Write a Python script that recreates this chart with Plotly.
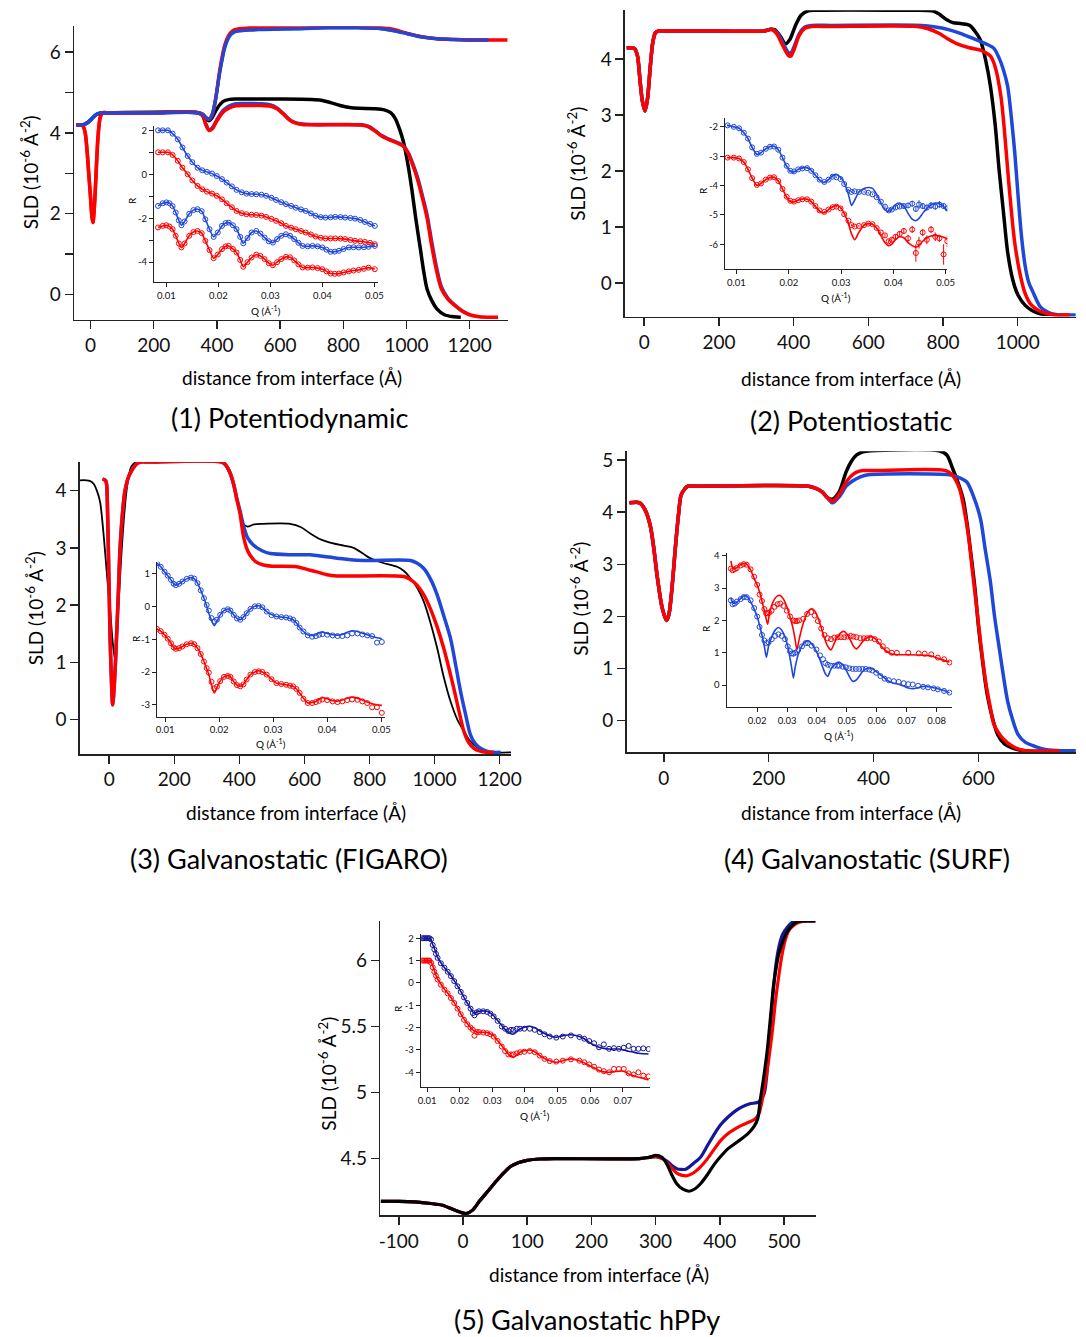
import plotly.graph_objects as go

W, H = 1086, 1337
FONT = "Lato"
RED = "#ff0000"
BLUE = "#1f48d8"
NAVY = "#16169a"
BLACK = "#000000"
AXC = "#222222"

# ---------------- Panel 1 : Potentiodynamic ----------------
P1_BLACK_X = [-45, -30, -20, -10, 0, 10, 20, 30, 40, 60, 340, 355, 365, 375, 385, 400, 420, 440, 460, 500, 600, 700, 730, 760, 790, 820, 850, 900, 930, 950, 965, 980, 991, 1005, 1017, 1030, 1044, 1055, 1065, 1080, 1097, 1120, 1150, 1172]
P1_BLACK_Y = [4.2, 4.2, 4.21, 4.25, 4.32, 4.4, 4.46, 4.49, 4.5, 4.5, 4.5, 4.45, 4.35, 4.3, 4.38, 4.6, 4.78, 4.83, 4.84, 4.84, 4.84, 4.83, 4.81, 4.75, 4.68, 4.63, 4.61, 4.6, 4.57, 4.5, 4.35, 4.05, 3.76, 3.2, 2.6, 1.85, 1.13, 0.55, 0.14, -0.15, -0.36, -0.5, -0.55, -0.56]
P1_BLUE_UP_X = [-45, -30, -20, -10, 0, 10, 20, 30, 40, 60, 200, 340, 355, 365, 375, 385, 395, 410, 425, 440, 455, 470, 500, 550, 650, 750, 850, 920, 960, 1000, 1044, 1097, 1150, 1200, 1260]
P1_BLUE_UP_Y = [4.2, 4.2, 4.21, 4.25, 4.32, 4.4, 4.46, 4.49, 4.5, 4.5, 4.5, 4.5, 4.46, 4.38, 4.34, 4.45, 4.8, 5.55, 6.12, 6.4, 6.5, 6.53, 6.55, 6.56, 6.58, 6.6, 6.6, 6.58, 6.53, 6.46, 6.38, 6.33, 6.31, 6.3, 6.3]
P1_RED_UP_X = [-45, -30, -24, -17, -11, -6, 0, 4, 7.5, 11, 15, 19, 23, 27, 31, 38, 50, 200, 340, 355, 365, 375, 385, 395, 410, 425, 440, 455, 470, 500, 550, 650, 750, 850, 920, 960, 1000, 1044, 1097, 1150, 1200, 1320]
P1_RED_UP_Y = [4.2, 4.2, 4.17, 4.0, 3.55, 3.02, 2.4, 1.95, 1.78, 2.05, 2.6, 3.25, 3.84, 4.2, 4.4, 4.5, 4.5, 4.5, 4.5, 4.46, 4.38, 4.34, 4.45, 4.8, 5.6, 6.18, 6.45, 6.55, 6.58, 6.6, 6.62, 6.64, 6.64, 6.63, 6.6, 6.56, 6.47, 6.39, 6.33, 6.31, 6.3, 6.3]
P1_RED_LOW_X = [-45, -30, -24, -17, -11, -6, 0, 4, 7.5, 11, 15, 19, 23, 27, 31, 38, 50, 200, 340, 355, 365, 375, 385, 400, 420, 440, 460, 480, 500, 540, 570, 590, 610, 630, 650, 670, 700, 800, 860, 880, 900, 920, 940, 965, 990, 1005, 1020, 1035, 1050, 1065, 1080, 1095, 1110, 1130, 1150, 1175, 1200, 1230, 1260, 1290]
P1_RED_LOW_Y = [4.2, 4.2, 4.17, 4.0, 3.55, 3.02, 2.4, 1.95, 1.78, 2.05, 2.6, 3.25, 3.84, 4.2, 4.4, 4.5, 4.5, 4.5, 4.5, 4.42, 4.2, 4.06, 4.1, 4.3, 4.52, 4.62, 4.67, 4.68, 4.68, 4.68, 4.66, 4.6, 4.47, 4.32, 4.24, 4.21, 4.2, 4.2, 4.19, 4.15, 4.05, 3.93, 3.85, 3.77, 3.67, 3.5, 3.2, 2.85, 2.4, 1.9, 1.2, 0.6, 0.15, -0.1, -0.25, -0.4, -0.5, -0.55, -0.56, -0.56]
P1_BLUE_LOW_X = [-45, -30, -20, -10, 0, 10, 20, 30, 40, 60, 200, 340, 355, 365, 375, 385, 400, 420, 440, 460, 480, 500, 540, 570, 590, 610, 630, 650, 670, 700, 800, 860, 880, 900, 920, 940, 965, 990, 1005, 1020, 1035, 1050, 1065, 1080, 1095, 1110, 1130, 1150, 1175, 1200]
P1_BLUE_LOW_Y = [4.2, 4.2, 4.21, 4.25, 4.32, 4.4, 4.46, 4.49, 4.5, 4.5, 4.5, 4.5, 4.43, 4.22, 4.08, 4.12, 4.33, 4.56, 4.67, 4.72, 4.73, 4.73, 4.72, 4.69, 4.62, 4.48, 4.33, 4.25, 4.22, 4.21, 4.21, 4.2, 4.16, 4.06, 3.94, 3.86, 3.78, 3.68, 3.52, 3.24, 2.9, 2.46, 1.98, 1.3, 0.68, 0.2, -0.08, -0.24, -0.4, -0.5]

# inset 1 (reflectivity)
IN1_Q_TOP = [0.0084, 0.0093, 0.0103, 0.0112, 0.0122, 0.0131, 0.0141, 0.0150, 0.0160, 0.0169, 0.0178, 0.0188, 0.0197, 0.0207, 0.0216, 0.0226, 0.0235, 0.0245, 0.0254, 0.0264, 0.0273, 0.0283, 0.0292, 0.0302, 0.0311, 0.0321, 0.0330, 0.0340, 0.0349, 0.0359, 0.0368, 0.0378, 0.0387, 0.0397, 0.0406, 0.0416, 0.0425, 0.0435, 0.0444, 0.0454, 0.0463, 0.0473, 0.0482, 0.0492, 0.0501]
IN1_BLUE_TOP = [2.0, 2.0, 2.0, 1.85, 1.59, 1.22, 0.83, 0.55, 0.30, 0.18, 0.11, 0.03, -0.08, -0.22, -0.38, -0.55, -0.71, -0.82, -0.88, -0.90, -0.91, -0.93, -0.98, -1.07, -1.17, -1.27, -1.36, -1.44, -1.52, -1.60, -1.67, -1.78, -1.89, -1.95, -1.97, -1.96, -1.94, -1.95, -1.97, -1.99, -2.02, -2.08, -2.17, -2.26, -2.35]
IN1_RED_TOP = [1.0, 1.0, 1.0, 0.88, 0.61, 0.30, 0.0, -0.28, -0.53, -0.68, -0.79, -0.88, -0.98, -1.14, -1.32, -1.50, -1.67, -1.77, -1.82, -1.84, -1.85, -1.88, -1.94, -2.03, -2.12, -2.23, -2.35, -2.43, -2.50, -2.58, -2.65, -2.74, -2.83, -2.89, -2.92, -2.92, -2.92, -2.93, -2.95, -2.99, -3.03, -3.05, -3.08, -3.12, -3.18]
IN1_Q_OSC = [0.0084, 0.0093, 0.0100, 0.0106, 0.0112, 0.0118, 0.0124, 0.0129, 0.0135, 0.0144, 0.0152, 0.0160, 0.0168, 0.0175, 0.0183, 0.0191, 0.0199, 0.0207, 0.0214, 0.0220, 0.0228, 0.0235, 0.0242, 0.0248, 0.0256, 0.0264, 0.0273, 0.0281, 0.0289, 0.0297, 0.0305, 0.0313, 0.0321, 0.0330, 0.0338, 0.0346, 0.0354, 0.0362, 0.0372, 0.0381, 0.0391, 0.0400, 0.0408, 0.0416, 0.0424, 0.0432, 0.0441, 0.0451, 0.0460, 0.0470, 0.0480, 0.0489, 0.0501]
IN1_BLUE_OSC = [-1.44, -1.32, -1.28, -1.32, -1.45, -1.74, -2.10, -2.32, -2.15, -1.80, -1.63, -1.59, -1.68, -2.05, -2.50, -2.85, -2.65, -2.35, -2.22, -2.20, -2.32, -2.50, -2.85, -3.14, -2.90, -2.65, -2.58, -2.70, -2.88, -3.05, -3.11, -2.95, -2.80, -2.73, -2.80, -2.95, -3.12, -3.26, -3.28, -3.26, -3.28, -3.33, -3.43, -3.53, -3.52, -3.48, -3.40, -3.33, -3.32, -3.33, -3.32, -3.30, -3.26]
IN1_RED_OSC = [-2.42, -2.35, -2.32, -2.38, -2.50, -2.80, -3.15, -3.33, -3.15, -2.80, -2.63, -2.58, -2.68, -3.03, -3.45, -3.82, -3.65, -3.41, -3.28, -3.26, -3.40, -3.56, -3.90, -4.21, -4.00, -3.79, -3.66, -3.72, -3.86, -4.05, -4.14, -4.00, -3.86, -3.76, -3.78, -3.92, -4.10, -4.24, -4.25, -4.24, -4.27, -4.32, -4.42, -4.52, -4.53, -4.52, -4.47, -4.42, -4.38, -4.35, -4.30, -4.25, -4.32]

# ---------------- Panel 2 : Potentiostatic ----------------
P2_COMMON_X = [-47, -35, -25, -18, -11, -5, 2, 9, 16, 23, 30, 38, 60, 200, 320, 340]
P2_COMMON_Y = [4.2, 4.2, 4.18, 4.05, 3.6, 3.25, 3.07, 3.3, 3.85, 4.3, 4.47, 4.5, 4.5, 4.5, 4.5, 4.53]
P2_BLACK_X = [350, 365, 378, 390, 405, 420, 439, 460, 700, 771, 790, 810, 826, 850, 872, 885, 900, 915, 927, 940, 950, 962, 973, 987, 1001, 1020, 1038, 1060, 1090]
P2_BLACK_Y = [4.52, 4.4, 4.27, 4.35, 4.6, 4.78, 4.86, 4.87, 4.87, 4.86, 4.8, 4.7, 4.65, 4.63, 4.6, 4.5, 4.34, 3.95, 3.51, 2.8, 2.03, 1.25, 0.55, 0.05, -0.22, -0.4, -0.49, -0.55, -0.56]
P2_BLUE_X = [355, 370, 385, 392, 400, 415, 430, 448, 500, 743, 780, 817, 850, 890, 915, 936, 950, 962, 973, 983, 992, 1001, 1010, 1020, 1030, 1040, 1050, 1060, 1075, 1090, 1110, 1155]
P2_BLUE_Y = [4.48, 4.3, 4.12, 4.1, 4.2, 4.45, 4.57, 4.6, 4.6, 4.6, 4.57, 4.52, 4.45, 4.34, 4.27, 4.19, 4.02, 3.8, 3.51, 2.95, 2.33, 1.55, 0.84, 0.3, 0.0, -0.15, -0.3, -0.42, -0.5, -0.55, -0.57, -0.57]
P2_RED_X = [355, 370, 385, 392, 400, 415, 430, 448, 500, 730, 760, 789, 810, 835, 870, 900, 927, 940, 955, 964, 973, 982, 992, 1005, 1019, 1035, 1056, 1080, 1100, 1140]
P2_RED_Y = [4.45, 4.25, 4.07, 4.05, 4.15, 4.42, 4.55, 4.58, 4.58, 4.58, 4.54, 4.46, 4.37, 4.28, 4.2, 4.16, 4.05, 3.85, 3.33, 2.75, 2.03, 1.35, 0.72, 0.2, -0.17, -0.38, -0.49, -0.55, -0.57, -0.57]

IN2_Q = [0.0083, 0.0095, 0.0105, 0.0114, 0.0122, 0.0130, 0.0139, 0.0147, 0.0156, 0.0164, 0.0172, 0.0180, 0.0188, 0.0196, 0.0203, 0.0210, 0.0218, 0.0226, 0.0235, 0.0243, 0.0251, 0.0259, 0.0268, 0.0276, 0.0284, 0.0291, 0.0299, 0.0306, 0.0314, 0.0320, 0.0326, 0.0334, 0.0344, 0.0352, 0.0360, 0.0368, 0.0376, 0.0384, 0.0391, 0.0397, 0.0404, 0.0412, 0.0420, 0.0428, 0.0436, 0.0443, 0.0449, 0.0456, 0.0464, 0.0472, 0.0480, 0.0488, 0.0496, 0.0503]
IN2_BLUE_FIT = [-1.95, -2.0, -2.05, -2.2, -2.4, -2.7, -2.94, -2.88, -2.75, -2.67, -2.66, -2.78, -3.05, -3.35, -3.52, -3.54, -3.45, -3.4, -3.39, -3.48, -3.65, -3.82, -3.9, -3.8, -3.66, -3.62, -3.72, -3.9, -4.3, -4.68, -4.5, -4.22, -4.1, -4.07, -4.1, -4.3, -4.6, -4.83, -4.88, -4.8, -4.65, -4.6, -4.7, -4.95, -5.15, -5.2, -5.12, -4.95, -4.78, -4.65, -4.6, -4.62, -4.72, -4.86]
IN2_BLUE_DATA = [-1.95, -2.0, -2.05, -2.2, -2.4, -2.7, -2.92, -2.88, -2.75, -2.68, -2.67, -2.78, -3.05, -3.33, -3.5, -3.52, -3.45, -3.42, -3.41, -3.5, -3.65, -3.8, -3.88, -3.8, -3.7, -3.72, -3.78, -3.95, -4.15, -4.22, -4.2, -4.22, -4.22, -4.25, -4.3, -4.4, -4.55, -4.72, -4.85, -4.82, -4.75, -4.72, -4.7, -4.68, -4.62, -4.8, -4.65, -4.7, -4.75, -4.68, -4.72, -4.65, -4.7, -4.78]
IN2_BLUE_ERR = [0.03, 0.03, 0.03, 0.03, 0.03, 0.03, 0.03, 0.03, 0.03, 0.03, 0.03, 0.03, 0.03, 0.03, 0.03, 0.03, 0.03, 0.03, 0.03, 0.03, 0.03, 0.03, 0.03, 0.03, 0.03, 0.03, 0.03, 0.03, 0.03, 0.03, 0.03, 0.03, 0.03, 0.03, 0.03, 0.03, 0.03, 0.04, 0.05, 0.05, 0.06, 0.06, 0.08, 0.08, 0.1, 0.1, 0.15, 0.1, 0.1, 0.12, 0.1, 0.12, 0.1, 0.1]
IN2_RED_FIT = [-3.05, -3.05, -3.08, -3.2, -3.45, -3.75, -4.0, -3.93, -3.8, -3.73, -3.72, -3.85, -4.12, -4.4, -4.55, -4.56, -4.5, -4.46, -4.47, -4.55, -4.72, -4.88, -4.93, -4.82, -4.72, -4.68, -4.75, -4.95, -5.3, -5.65, -5.85, -5.6, -5.35, -5.3, -5.32, -5.45, -5.7, -5.95, -6.05, -6.0, -5.85, -5.75, -5.78, -5.95, -6.05, -6.1, -6.05, -5.9, -5.78, -5.72, -5.7, -5.72, -5.76, -5.82]
IN2_RED_DATA = [-3.05, -3.05, -3.08, -3.2, -3.45, -3.75, -3.98, -3.93, -3.8, -3.73, -3.72, -3.85, -4.12, -4.38, -4.52, -4.55, -4.5, -4.47, -4.47, -4.55, -4.7, -4.85, -4.9, -4.82, -4.74, -4.72, -4.78, -4.98, -5.2, -5.35, -5.4, -5.38, -5.35, -5.3, -5.32, -5.45, -5.6, -5.7, -5.9, -5.85, -5.75, -5.65, -5.55, -5.8, -5.5, -6.3, -5.95, -5.6, -5.85, -5.5, -5.75, -5.8, -6.35, -5.9]
IN2_RED_ERR = [0.03, 0.03, 0.03, 0.03, 0.03, 0.03, 0.03, 0.03, 0.03, 0.03, 0.03, 0.03, 0.03, 0.03, 0.03, 0.03, 0.03, 0.03, 0.03, 0.03, 0.03, 0.03, 0.03, 0.03, 0.03, 0.03, 0.03, 0.03, 0.03, 0.03, 0.03, 0.03, 0.03, 0.03, 0.03, 0.03, 0.03, 0.05, 0.06, 0.08, 0.08, 0.1, 0.1, 0.12, 0.12, 0.3, 0.2, 0.12, 0.15, 0.12, 0.15, 0.12, 0.35, 0.2]

# ---------------- Panel 3 : Galvanostatic (FIGARO) ----------------
P3_BLACK_X = [-90, -70, -60, -48, -38, -28, -20, -12.7, -5, 2.5, 10, 17.6, 22, 27.9, 33, 38, 45, 53, 60, 68, 83.5, 100, 340, 355, 370, 382, 392, 402, 412, 425, 445, 470, 556, 590, 618, 645, 669, 710, 751, 780, 802, 840, 885, 905, 926, 947, 967, 988, 1008, 1028, 1049, 1070, 1090, 1110, 1131, 1150, 1172, 1235]
P3_BLACK_Y = [4.18, 4.18, 4.17, 4.12, 4.0, 3.8, 3.4, 2.93, 2.4, 1.94, 1.4, 1.05, 1.3, 1.94, 2.45, 2.93, 3.5, 3.98, 4.25, 4.42, 4.5, 4.5, 4.5, 4.45, 4.3, 4.1, 3.85, 3.62, 3.42, 3.37, 3.41, 3.42, 3.42, 3.36, 3.25, 3.16, 3.11, 3.05, 3.0, 2.9, 2.82, 2.74, 2.67, 2.6, 2.47, 2.3, 2.06, 1.68, 1.25, 0.75, 0.32, 0.0, -0.2, -0.38, -0.48, -0.54, -0.57, -0.57]
P3_DIP_X = [-20.7, -12, -10, -7.6, -5, -2.5, 0, 2.5, 6.5, 10.6, 15, 18.8, 22.8, 28, 32.8, 40, 48, 60, 73.5, 85, 98.7, 120]
P3_DIP_Y = [4.2, 4.18, 4.16, 4.09, 3.6, 2.93, 2.2, 1.48, 0.75, 0.26, 0.55, 0.95, 1.48, 2.2, 2.93, 3.55, 3.98, 4.25, 4.39, 4.47, 4.5, 4.5]
P3_RED_X = [345, 358, 370, 382, 392, 402, 412, 422, 433, 450, 474, 500, 577, 610, 638, 670, 700, 906, 925, 946, 967, 987, 1008, 1028, 1044, 1059, 1075, 1090, 1105, 1121, 1140, 1160, 1182]
P3_RED_Y = [4.5, 4.45, 4.33, 4.12, 3.85, 3.6, 3.22, 3.0, 2.87, 2.76, 2.7, 2.68, 2.67, 2.62, 2.58, 2.53, 2.51, 2.5, 2.45, 2.35, 2.18, 1.94, 1.62, 1.25, 0.9, 0.55, 0.15, -0.2, -0.4, -0.5, -0.55, -0.57, -0.57]
P3_BLUE_X = [345, 358, 370, 382, 392, 402, 412, 425, 443, 470, 495, 560, 618, 660, 700, 751, 800, 926, 947, 967, 988, 1008, 1028, 1049, 1065, 1080, 1095, 1110, 1125, 1141, 1160, 1180, 1203]
P3_BLUE_Y = [4.5, 4.45, 4.33, 4.12, 3.87, 3.65, 3.4, 3.18, 3.05, 2.95, 2.9, 2.88, 2.88, 2.85, 2.82, 2.79, 2.78, 2.78, 2.73, 2.64, 2.45, 2.18, 1.82, 1.42, 0.95, 0.49, 0.1, -0.26, -0.42, -0.5, -0.55, -0.57, -0.57]

IN3_Q = [0.0085, 0.0092, 0.0099, 0.0105, 0.0111, 0.0116, 0.0120, 0.0126, 0.0132, 0.0140, 0.0148, 0.0154, 0.0160, 0.0166, 0.0172, 0.0177, 0.0181, 0.0186, 0.0191, 0.0196, 0.0202, 0.0209, 0.0216, 0.0221, 0.0227, 0.0233, 0.0239, 0.0245, 0.0251, 0.0258, 0.0266, 0.0273, 0.0280, 0.0288, 0.0297, 0.0306, 0.0315, 0.0324, 0.0331, 0.0337, 0.0343, 0.0349, 0.0356, 0.0364, 0.0372, 0.0379, 0.0385, 0.0391, 0.0400, 0.0410, 0.0419, 0.0428, 0.0437, 0.0446, 0.0456, 0.0465, 0.0474, 0.0483, 0.0492, 0.0501]
IN3_BLUE_FIT = [1.33, 1.22, 1.07, 0.95, 0.82, 0.70, 0.66, 0.70, 0.77, 0.85, 0.89, 0.86, 0.72, 0.50, 0.26, 0.02, -0.20, -0.42, -0.58, -0.45, -0.25, -0.12, -0.07, -0.12, -0.25, -0.36, -0.40, -0.32, -0.20, -0.07, 0.01, 0.03, -0.02, -0.15, -0.24, -0.30, -0.32, -0.33, -0.36, -0.40, -0.50, -0.64, -0.76, -0.86, -0.88, -0.86, -0.80, -0.78, -0.82, -0.86, -0.87, -0.85, -0.78, -0.74, -0.76, -0.81, -0.86, -0.91, -0.95, -0.98]
IN3_BLUE_DATA = [1.33, 1.22, 1.07, 0.95, 0.82, 0.70, 0.66, 0.70, 0.77, 0.85, 0.89, 0.86, 0.72, 0.50, 0.26, 0.05, -0.12, -0.35, -0.45, -0.40, -0.25, -0.12, -0.08, -0.12, -0.25, -0.36, -0.40, -0.32, -0.20, -0.07, 0.01, 0.02, -0.02, -0.15, -0.26, -0.30, -0.32, -0.33, -0.36, -0.40, -0.50, -0.64, -0.76, -0.88, -0.92, -0.90, -0.86, -0.84, -0.86, -0.88, -0.90, -0.90, -0.88, -0.82, -0.82, -0.85, -0.88, -0.90, -1.10, -1.08]
IN3_RED_FIT = [-0.68, -0.75, -0.86, -0.98, -1.12, -1.25, -1.29, -1.27, -1.22, -1.15, -1.12, -1.15, -1.27, -1.45, -1.68, -1.90, -2.08, -2.40, -2.64, -2.48, -2.28, -2.15, -2.10, -2.15, -2.29, -2.40, -2.44, -2.38, -2.23, -2.08, -2.00, -1.96, -2.00, -2.08, -2.22, -2.34, -2.37, -2.39, -2.42, -2.44, -2.52, -2.64, -2.80, -2.95, -2.93, -2.90, -2.84, -2.79, -2.82, -2.88, -2.89, -2.86, -2.80, -2.77, -2.80, -2.86, -2.92, -2.97, -3.00, -3.02]
IN3_RED_DATA = [-0.68, -0.75, -0.86, -0.98, -1.12, -1.25, -1.29, -1.27, -1.22, -1.15, -1.12, -1.15, -1.27, -1.45, -1.68, -1.88, -2.02, -2.30, -2.50, -2.45, -2.28, -2.15, -2.12, -2.15, -2.29, -2.40, -2.44, -2.38, -2.23, -2.08, -2.00, -1.98, -2.00, -2.08, -2.22, -2.34, -2.37, -2.39, -2.42, -2.44, -2.52, -2.64, -2.82, -2.95, -2.95, -2.92, -2.88, -2.84, -2.86, -2.90, -2.92, -2.90, -2.86, -2.84, -2.85, -2.90, -2.95, -3.08, -3.08, -3.25]

# ---------------- Panel 4 : Galvanostatic (SURF) ----------------
P4_COMMON_X = [-65.6, -46, -36, -26, -19, -13, -3, 5.3, 10, 15, 23, 28, 33, 40, 46, 60, 276, 290, 302, 312]
P4_COMMON_Y = [4.18, 4.18, 4.05, 3.75, 3.3, 2.8, 2.16, 1.92, 2.05, 2.48, 3.43, 3.95, 4.33, 4.45, 4.5, 4.5, 4.5, 4.46, 4.39, 4.28]
P4_BLACK_X = [322, 335, 348, 358, 368, 380, 394, 525, 540, 551, 561, 571, 579, 587, 594, 600, 608, 617, 627, 637, 650, 663, 689, 760]
P4_BLACK_Y = [4.25, 4.4, 4.78, 4.98, 5.1, 5.16, 5.18, 5.18, 5.1, 4.84, 4.58, 4.26, 3.75, 3.11, 2.5, 1.84, 1.15, 0.5, 0.05, -0.27, -0.45, -0.52, -0.58, -0.58]
P4_RED_X = [322, 335, 348, 358, 368, 380, 400, 538, 550, 564, 572, 581, 589, 597, 605, 614, 622, 630, 643, 656, 670, 689, 755]
P4_RED_Y = [4.21, 4.35, 4.58, 4.7, 4.77, 4.8, 4.8, 4.8, 4.72, 4.46, 4.1, 3.56, 2.85, 2.16, 1.45, 0.75, 0.3, -0.08, -0.3, -0.43, -0.52, -0.58, -0.58]
P4_BLUE_X = [322, 335, 348, 360, 375, 390, 545, 560, 578, 591, 604, 613, 623, 631, 640, 648, 656, 666, 676, 690, 709, 730, 760, 786]
P4_BLUE_Y = [4.18, 4.3, 4.5, 4.6, 4.68, 4.72, 4.72, 4.68, 4.58, 4.3, 3.88, 3.3, 2.67, 2.0, 1.39, 0.85, 0.37, 0.0, -0.27, -0.42, -0.5, -0.56, -0.58, -0.58]

IN4_Q_RED = [0.0112, 0.0118, 0.0125, 0.0132, 0.0145, 0.0155, 0.0165, 0.0178, 0.0190, 0.0200, 0.0208, 0.0216, 0.0224, 0.0230, 0.0235, 0.0240, 0.0248, 0.0258, 0.0268, 0.0277, 0.0288, 0.0299, 0.0310, 0.0321, 0.0327, 0.0333, 0.0340, 0.0354, 0.0367, 0.0381, 0.0392, 0.0403, 0.0414, 0.0425, 0.0436, 0.0447, 0.0458, 0.0469, 0.0480, 0.0491, 0.0502, 0.0513, 0.0522, 0.0532, 0.0545, 0.0557, 0.0568, 0.0579, 0.0593, 0.0607, 0.0620, 0.0634, 0.0650, 0.0667, 0.0705, 0.0740, 0.0760, 0.0782, 0.0804, 0.0825, 0.0843]
IN4_RED_FIT = [3.84, 3.63, 3.60, 3.63, 3.73, 3.76, 3.74, 3.56, 3.30, 3.10, 2.88, 2.60, 2.30, 2.05, 1.88, 2.15, 2.45, 2.66, 2.76, 2.77, 2.66, 2.43, 2.10, 1.71, 1.40, 1.09, 1.40, 1.91, 2.22, 2.36, 2.30, 2.09, 1.78, 1.45, 1.20, 1.09, 1.30, 1.50, 1.62, 1.66, 1.55, 1.37, 1.20, 1.12, 1.25, 1.40, 1.47, 1.50, 1.45, 1.30, 1.15, 1.04, 0.96, 0.94, 0.94, 0.93, 0.92, 0.90, 0.83, 0.77, 0.71]
IN4_RED_DATA = [3.60, 3.55, 3.58, 3.62, 3.70, 3.74, 3.72, 3.58, 3.35, 3.10, 2.80, 2.60, 2.35, 2.22, 2.22, 2.24, 2.30, 2.42, 2.50, 2.52, 2.45, 2.30, 2.12, 2.00, 1.98, 1.98, 2.00, 2.05, 2.20, 2.26, 2.15, 1.98, 1.75, 1.55, 1.45, 1.42, 1.47, 1.48, 1.48, 1.48, 1.50, 1.52, 1.50, 1.48, 1.45, 1.45, 1.45, 1.46, 1.42, 1.35, 1.20, 1.08, 1.00, 1.00, 1.00, 0.98, 0.97, 0.95, 0.85, 0.80, 0.70]
IN4_Q_BLUE = [0.0112, 0.0118, 0.0125, 0.0132, 0.0145, 0.0155, 0.0165, 0.0178, 0.0190, 0.0200, 0.0208, 0.0216, 0.0224, 0.0231, 0.0238, 0.0249, 0.0260, 0.0271, 0.0282, 0.0293, 0.0302, 0.0310, 0.0316, 0.0321, 0.0327, 0.0337, 0.0350, 0.0362, 0.0370, 0.0382, 0.0398, 0.0410, 0.0420, 0.0428, 0.0436, 0.0446, 0.0458, 0.0468, 0.0475, 0.0486, 0.0497, 0.0508, 0.0519, 0.0530, 0.0541, 0.0552, 0.0563, 0.0575, 0.0585, 0.0598, 0.0612, 0.0626, 0.0640, 0.0657, 0.0673, 0.0690, 0.0705, 0.0720, 0.0738, 0.0755, 0.0771, 0.0790, 0.0804, 0.0825, 0.0843]
IN4_BLUE_FIT = [2.70, 2.55, 2.53, 2.56, 2.68, 2.76, 2.75, 2.58, 2.35, 2.12, 1.85, 1.55, 1.20, 0.86, 1.20, 1.50, 1.70, 1.78, 1.70, 1.50, 1.20, 0.83, 0.50, 0.22, 0.55, 0.94, 1.22, 1.35, 1.37, 1.28, 1.04, 0.78, 0.53, 0.35, 0.27, 0.48, 0.63, 0.70, 0.71, 0.63, 0.47, 0.27, 0.12, 0.15, 0.27, 0.42, 0.50, 0.53, 0.51, 0.42, 0.32, 0.22, 0.12, 0.06, 0.03, -0.03, -0.09, -0.11, -0.08, -0.04, -0.05, -0.08, -0.11, -0.17, -0.24]
IN4_BLUE_DATA = [2.62, 2.50, 2.52, 2.58, 2.66, 2.72, 2.72, 2.62, 2.38, 2.12, 1.80, 1.55, 1.38, 1.30, 1.32, 1.42, 1.52, 1.57, 1.52, 1.42, 1.20, 1.05, 0.98, 0.97, 1.00, 1.08, 1.20, 1.30, 1.30, 1.22, 1.10, 0.92, 0.80, 0.68, 0.63, 0.60, 0.60, 0.60, 0.60, 0.57, 0.55, 0.52, 0.50, 0.50, 0.50, 0.50, 0.50, 0.48, 0.45, 0.38, 0.28, 0.20, 0.15, 0.12, 0.10, 0.06, 0.03, 0.02, -0.02, -0.05, -0.07, -0.10, -0.13, -0.18, -0.23]

# ---------------- Panel 5 : Galvanostatic hPPy ----------------
P5_COMMON_X = [-128, -100, -75, -50, -32, -15, 5, 15, 26, 40, 52, 63, 74, 87, 100, 120, 142, 275, 290]
P5_COMMON_Y = [4.177, 4.177, 4.172, 4.16, 4.147, 4.115, 4.084, 4.11, 4.18, 4.26, 4.33, 4.39, 4.44, 4.47, 4.487, 4.497, 4.5, 4.5, 4.51]
P5_BLACK_X = [300, 310, 317.5, 325, 333, 342, 352, 361, 370, 381, 392, 402, 413, 424, 434, 444, 453, 459, 463, 468, 474, 479, 484, 488, 492, 498, 503, 510, 519, 530, 549]
P5_BLACK_Y = [4.525, 4.51, 4.46, 4.38, 4.31, 4.27, 4.253, 4.27, 4.31, 4.38, 4.46, 4.52, 4.576, 4.615, 4.651, 4.69, 4.74, 4.8, 4.94, 5.1, 5.32, 5.57, 5.82, 5.95, 6.05, 6.14, 6.2, 6.25, 6.29, 6.3, 6.3]
P5_RED_X = [300, 310, 317.5, 325, 333, 340, 349, 360, 370, 381, 392, 402, 413, 424, 434, 445, 455, 461, 466, 471, 476, 482, 487, 493, 498, 503, 508, 516, 524, 535, 549]
P5_RED_Y = [4.515, 4.505, 4.47, 4.43, 4.39, 4.375, 4.37, 4.395, 4.437, 4.5, 4.576, 4.64, 4.69, 4.725, 4.752, 4.775, 4.8, 4.84, 4.94, 5.08, 5.24, 5.47, 5.7, 5.92, 6.07, 6.17, 6.23, 6.27, 6.29, 6.3, 6.3]
P5_BLUE_X = [300, 310, 318, 325, 333, 340, 347, 358, 370, 381, 392, 402, 413, 424, 434, 447, 461, 469, 473, 476, 481, 487, 492, 498, 505, 513, 525, 549]
P5_BLUE_Y = [4.515, 4.5, 4.48, 4.45, 4.424, 4.418, 4.42, 4.46, 4.51, 4.6, 4.69, 4.76, 4.815, 4.86, 4.89, 4.915, 4.93, 4.99, 5.12, 5.32, 5.63, 5.95, 6.1, 6.2, 6.25, 6.29, 6.3, 6.3]

IN5_Q = [0.0085, 0.0090, 0.0094, 0.0099, 0.0103, 0.0107, 0.0112, 0.0117, 0.0122, 0.0127, 0.0132, 0.0142, 0.0153, 0.0163, 0.0173, 0.0183, 0.0193, 0.0203, 0.0213, 0.0223, 0.0233, 0.0240, 0.0245, 0.0252, 0.0259, 0.0272, 0.0284, 0.0294, 0.0304, 0.0316, 0.0329, 0.0339, 0.0349, 0.0357, 0.0365, 0.0375, 0.0385, 0.0398, 0.0415, 0.0430, 0.0445, 0.0460, 0.0476, 0.0496, 0.0516, 0.0541, 0.0567, 0.0582, 0.0597, 0.0612, 0.0627, 0.0642, 0.0658, 0.0673, 0.0688, 0.0703, 0.0718, 0.0733, 0.0748, 0.0763, 0.0779]
IN5_BLUE_FIT = [2.0, 2.0, 2.0, 2.0, 2.0, 2.0, 1.92, 1.72, 1.55, 1.35, 1.14, 0.9, 0.69, 0.5, 0.32, 0.1, -0.13, -0.38, -0.65, -0.9, -1.13, -1.3, -1.35, -1.3, -1.27, -1.25, -1.27, -1.35, -1.47, -1.68, -1.91, -2.08, -2.21, -2.28, -2.29, -2.18, -2.06, -1.98, -1.94, -2.01, -2.14, -2.26, -2.36, -2.43, -2.36, -2.32, -2.4, -2.5, -2.66, -2.78, -2.88, -2.93, -2.96, -2.96, -2.96, -3.0, -3.06, -3.1, -3.15, -3.17, -3.18]
IN5_BLUE_DATA = [2.0, 2.0, 2.0, 2.0, 2.0, 2.0, 1.95, 1.7, 1.5, 1.3, 1.12, 0.88, 0.68, 0.5, 0.3, 0.08, -0.15, -0.4, -0.65, -0.9, -1.15, -1.35, -1.45, -1.32, -1.27, -1.27, -1.3, -1.38, -1.5, -1.7, -1.95, -2.05, -2.15, -2.1, -2.1, -2.05, -2.05, -2.05, -2.05, -2.1, -2.2, -2.3, -2.4, -2.45, -2.4, -2.35, -2.42, -2.5, -2.6, -2.7, -2.88, -2.75, -2.95, -2.92, -2.95, -2.9, -2.82, -2.95, -2.95, -2.93, -2.96]
IN5_RED_FIT = [1.0, 1.0, 1.0, 1.0, 1.0, 1.0, 0.95, 0.78, 0.55, 0.35, 0.17, -0.05, -0.28, -0.45, -0.65, -0.88, -1.13, -1.38, -1.62, -1.82, -1.99, -2.1, -2.14, -2.2, -2.21, -2.21, -2.22, -2.28, -2.36, -2.58, -2.81, -3.0, -3.18, -3.3, -3.33, -3.22, -3.1, -3.04, -3.0, -3.08, -3.25, -3.38, -3.48, -3.55, -3.48, -3.4, -3.48, -3.58, -3.7, -3.8, -3.92, -3.98, -4.0, -3.98, -3.95, -3.95, -4.07, -4.15, -4.22, -4.28, -4.34]
IN5_RED_DATA = [1.0, 1.0, 1.0, 1.0, 1.0, 1.0, 0.9, 0.7, 0.5, 0.32, 0.15, -0.08, -0.3, -0.47, -0.68, -0.9, -1.15, -1.4, -1.65, -1.85, -2.0, -2.1, -2.36, -2.2, -2.2, -2.22, -2.25, -2.3, -2.4, -2.6, -2.85, -3.05, -3.2, -3.2, -3.2, -3.15, -3.1, -3.08, -3.05, -3.1, -3.25, -3.4, -3.5, -3.52, -3.48, -3.42, -3.48, -3.55, -3.65, -3.75, -3.88, -3.95, -4.0, -3.85, -3.85, -3.85, -4.05, -4.1, -4.0, -4.15, -4.18]

# ---------------- tick labels ----------------
P1_XT = [0, 200, 400, 600, 800, 1000, 1200]
P1_YT = [0, 2, 4, 6]
P2_XT = [0, 200, 400, 600, 800, 1000]
P2_YT = [0, 1, 2, 3, 4]
P3_XT = [0, 200, 400, 600, 800, 1000, 1200]
P3_YT = [0, 1, 2, 3, 4]
P4_XT = [0, 200, 400, 600]
P4_YT = [0, 1, 2, 3, 4, 5]
P5_XT = [-100, 0, 100, 200, 300, 400, 500]
P5_YT = [4.5, 5, 5.5, 6]
IN1_XT = [0.01, 0.02, 0.03, 0.04, 0.05]
IN1_YT = [-4, -2, 0, 2]
IN2_XT = [0.01, 0.02, 0.03, 0.04, 0.05]
IN2_YT = [-6, -5, -4, -3, -2]
IN3_XT = [0.01, 0.02, 0.03, 0.04, 0.05]
IN3_YT = [-3, -2, -1, 0, 1]
IN4_XT = [0.02, 0.03, 0.04, 0.05, 0.06, 0.07, 0.08]
IN4_YT = [0, 1, 2, 3, 4]
IN5_XT = [0.01, 0.02, 0.03, 0.04, 0.05, 0.06, 0.07]
IN5_YT = [-4, -3, -2, -1, 0, 1, 2]


def fx(px):
    return px / W


def fy(py):
    return 1 - py / H


def lbl(v):
    return "%g" % v


fig = go.Figure()


def axref(n):
    return ("x" if n == 1 else "x%d" % n), ("y" if n == 1 else "y%d" % n)


def add_line(n, x, y, color, width, smooth=0.8):
    xa, ya = axref(n)
    fig.add_trace(go.Scatter(x=x, y=y, mode="lines", xaxis=xa, yaxis=ya,
                             line=dict(color=color, width=width, shape="spline", smoothing=smooth),
                             hoverinfo="skip", showlegend=False))


def add_pts(n, x, y, color, err=None):
    xa, ya = axref(n)
    kw = {}
    if err is not None:
        kw["error_y"] = dict(type="data", array=err, visible=True, color=color, thickness=1, width=0)
    fig.add_trace(go.Scatter(x=x, y=y, mode="markers", xaxis=xa, yaxis=ya,
                             marker=dict(symbol="circle-open", size=5, color=color, line=dict(width=1, color=color)),
                             hoverinfo="skip", showlegend=False, **kw))


# Panel 1
add_line(1, P1_BLACK_X, P1_BLACK_Y, BLACK, 3.5)
add_line(1, P1_BLUE_LOW_X, P1_BLUE_LOW_Y, BLUE, 3.5)
add_line(1, P1_BLUE_UP_X, P1_BLUE_UP_Y, BLUE, 3.5)
add_line(1, P1_RED_LOW_X, P1_RED_LOW_Y, RED, 3.5)
add_line(1, P1_RED_UP_X, P1_RED_UP_Y, RED, 3.5)
add_line(1, P1_BLUE_UP_X, P1_BLUE_UP_Y, BLUE, 3.0)
for q, r, c in [(IN1_Q_TOP, IN1_BLUE_TOP, BLUE), (IN1_Q_TOP, IN1_RED_TOP, RED),
                (IN1_Q_OSC, IN1_BLUE_OSC, BLUE), (IN1_Q_OSC, IN1_RED_OSC, RED)]:
    add_pts(2, q, r, c)
    add_line(2, q, r, c, 1.6, 0.6)

# Panel 2
add_line(3, P2_COMMON_X + P2_BLACK_X, P2_COMMON_Y + P2_BLACK_Y, BLACK, 3.5)
add_line(3, P2_COMMON_X + P2_BLUE_X, P2_COMMON_Y + P2_BLUE_Y, BLUE, 3.5)
add_line(3, P2_COMMON_X + P2_RED_X, P2_COMMON_Y + P2_RED_Y, RED, 3.5)
add_pts(4, IN2_Q, IN2_BLUE_DATA, BLUE, IN2_BLUE_ERR)
add_line(4, IN2_Q, IN2_BLUE_FIT, BLUE, 1.6, 0.6)
add_pts(4, IN2_Q, IN2_RED_DATA, RED, IN2_RED_ERR)
add_line(4, IN2_Q, IN2_RED_FIT, RED, 1.6, 0.6)

# Panel 3
add_line(5, P3_BLACK_X, P3_BLACK_Y, BLACK, 1.8)
add_line(5, P3_DIP_X + P3_BLUE_X, P3_DIP_Y + P3_BLUE_Y, BLUE, 3.5)
add_line(5, P3_DIP_X + P3_RED_X, P3_DIP_Y + P3_RED_Y, RED, 3.5)
add_pts(6, IN3_Q, IN3_BLUE_DATA, BLUE)
add_line(6, IN3_Q, IN3_BLUE_FIT, BLUE, 1.6, 0.6)
add_pts(6, IN3_Q, IN3_RED_DATA, RED)
add_line(6, IN3_Q, IN3_RED_FIT, RED, 1.6, 0.6)

# Panel 4
add_line(7, P4_COMMON_X + P4_BLACK_X, P4_COMMON_Y + P4_BLACK_Y, BLACK, 3.5)
add_line(7, P4_COMMON_X + P4_BLUE_X, P4_COMMON_Y + P4_BLUE_Y, BLUE, 3.5)
add_line(7, P4_COMMON_X + P4_RED_X, P4_COMMON_Y + P4_RED_Y, RED, 3.5)
add_pts(8, IN4_Q_RED, IN4_RED_DATA, RED)
add_line(8, IN4_Q_RED, IN4_RED_FIT, RED, 1.6, 0.6)
add_pts(8, IN4_Q_BLUE, IN4_BLUE_DATA, BLUE)
add_line(8, IN4_Q_BLUE, IN4_BLUE_FIT, BLUE, 1.6, 0.6)

# Panel 5
add_line(9, P5_COMMON_X + P5_BLUE_X, P5_COMMON_Y + P5_BLUE_Y, NAVY, 3.2)
add_line(9, P5_COMMON_X + P5_RED_X, P5_COMMON_Y + P5_RED_Y, RED, 3.2)
add_line(9, P5_COMMON_X + P5_BLACK_X, P5_COMMON_Y + P5_BLACK_Y, BLACK, 3.2)
add_pts(10, IN5_Q, IN5_BLUE_DATA, NAVY)
add_line(10, IN5_Q, IN5_BLUE_FIT, NAVY, 1.6, 0.6)
add_pts(10, IN5_Q, IN5_RED_DATA, RED)
add_line(10, IN5_Q, IN5_RED_FIT, RED, 1.6, 0.6)


def axis(dom, rng, tv, anchor, size, ticklen, lw, minor=None, fmt=None):
    d = dict(domain=dom, range=rng, tickmode="array", tickvals=tv,
             ticktext=[(fmt(v) if fmt else lbl(v)) for v in tv],
             showline=True, linecolor=AXC, linewidth=lw, ticks="outside", ticklen=ticklen,
             tickwidth=lw, tickcolor=AXC, showgrid=False, zeroline=False, anchor=anchor,
             tickfont=dict(family=FONT, size=size, color="#111"), fixedrange=True)
    if minor:
        d["minor"] = minor
    return d


def qfmt(v):
    return "%.2f" % v


layout = dict(width=W, height=H, margin=dict(l=0, r=0, t=0, b=0), autosize=False,
              paper_bgcolor="white", plot_bgcolor="rgba(0,0,0,0)", showlegend=False,
              font=dict(family=FONT, color="#000"))

MS = 19   # main tick font
IS = 9.5  # inset tick font

PANELS = [
    (1, (72, 511, 317.3, 23.3), [-52, 1321], [-0.62, 6.64], P1_XT, P1_YT, dict(dtick=1, tick0=0, ticks="outside", ticklen=8, tickcolor=AXC, tickwidth=1.5)),
    (3, (629.5, 1086, 314.3, 7.3), [-51.6, 1156], [-0.6, 4.87], P2_XT, P2_YT, None),
    (5, (77.8, 514.5, 752.7, 460), [-90.2, 1236], [-0.6, 4.5], P3_XT, P3_YT, None),
    (7, (631.2, 1086, 751, 449.3), [-70.9, 786.4], [-0.61, 5.17], P4_XT, P4_YT, None),
    (9, (382, 822.7, 1215, 920), [-128.6, 549.7], [4.071, 6.30], P5_XT, P5_YT, None),
]
INSETS = [
    (2, (152.7, 380, 280, 123), [0.0076, 0.0508], [-4.92, 2.21], IN1_XT, IN1_YT, dict(dtick=1, tick0=0, ticks="outside", ticklen=4, tickcolor=AXC, tickwidth=1)),
    (4, (730.7, 955.7, 266.7, 115), [0.0078, 0.0503], [-6.85, -1.69], IN2_XT, IN2_YT, None),
    (6, (155.7, 386.7, 715.7, 560), [0.00848, 0.0507], [-3.38, 1.375], IN3_XT, IN3_YT, None),
    (8, (732.3, 960.7, 705.7, 551.7), [0.00976, 0.0852], [-0.68, 4.07], IN4_XT, IN4_YT, None),
    (10, (422.7, 655, 1086.7, 933.3), [0.008, 0.0784], [-4.67, 2.18], IN5_XT, IN5_YT, None),
]

for n, (x0, x1, yb, yt), xr, yr, xt, yt_, mn in PANELS:
    xa, ya = axref(n)
    layout["xaxis" if n == 1 else "xaxis%d" % n] = axis([fx(x0), fx(x1)], xr, xt, ya, MS, 8, 1.5)
    layout["yaxis" if n == 1 else "yaxis%d" % n] = axis([fy(yb), fy(yt)], yr, yt_, xa, MS, 8, 1.5, minor=mn)

for n, (x0, x1, yb, yt), xr, yr, xt, yt_, mn in INSETS:
    layout["xaxis%d" % n] = axis([fx(x0), fx(x1)], xr, xt, "y%d" % n, IS, 4, 1, fmt=qfmt)
    layout["yaxis%d" % n] = axis([fy(yb), fy(yt)], yr, yt_, "x%d" % n, IS, 4, 1, minor=mn)

ann = []


def text(px, py, s, size, angle=0):
    ann.append(dict(x=fx(px), y=fy(py), xref="paper", yref="paper", text=s, showarrow=False,
                    xanchor="center", yanchor="middle", textangle=angle,
                    font=dict(family=FONT, size=size, color="#000")))


SLD = "SLD (10<sup>-6</sup> Å<sup>-2</sup>)"
DIST = "distance from interface (Å)"
QT = "Q (Å<sup>-1</sup>)"

for (yx, yy, dx, dy, tx, ty, title) in [
    (27, 170, 292, 375, 290, 415, "(1) Potentiodynamic"),
    (581, 161, 858, 376, 858, 418, "(2) Potentiostatic"),
    (32, 607, 297, 811, 289, 857, "(3) Galvanostatic (FIGARO)"),
    (584, 597, 858, 811, 874, 857, "(4) Galvanostatic (SURF)"),
    (329, 1073, 603, 1274, 591, 1319, "(5) Galvanostatic hPPy"),
]:
    text(yx, yy, SLD, 19, -90)
    text(dx, dy, DIST, 19)
    text(tx, ty, title, 27)

for (rx, ry, qx, qy) in [
    (130, 198, 266, 308),
    (708, 188, 843, 295),
    (134, 637, 271, 742),
    (711, 627, 846, 734),
    (400, 1008, 538, 1115),
]:
    text(rx, ry, "R", 10, -90)
    text(qx, qy, QT, 10)

layout["annotations"] = ann
fig.update_layout(**layout)
fig.write_html("out.html", config={"displayModeBar": False, "staticPlot": True},
               post_script="document.body.style.margin='0px';document.body.style.overflow='hidden';")
